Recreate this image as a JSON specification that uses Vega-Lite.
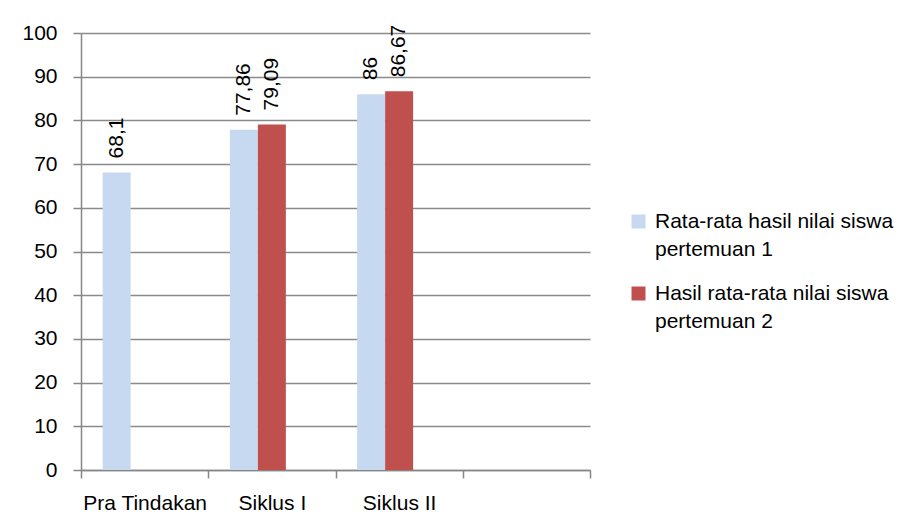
{
  "$schema": "https://vega.github.io/schema/vega-lite/v6.json",
  "width": 509,
  "height": 437,
  "autosize": {"type": "none"},
  "padding": {"left": 81, "top": 33, "right": 317, "bottom": 58},
  "background": "white",
  "config": {
    "locale": {"number": {"decimal": ",", "thousands": ".", "grouping": [3], "currency": ["", ""]}},
    "view": {"stroke": null},
    "font": "Liberation Sans",
    "axis": {
      "labelFont": "Liberation Sans",
      "labelFontSize": 21,
      "labelColor": "#000000",
      "domainColor": "#868686",
      "tickColor": "#868686",
      "gridColor": "#8a8a8a",
      "gridWidth": 1.5,
      "tickWidth": 1.5,
      "tickSize": 8,
      "title": null
    },
    "legend": {
      "labelFont": "Liberation Sans",
      "labelFontSize": 21,
      "labelColor": "#000000"
    }
  },
  "data": {
    "values": [
      {"kategori": "Pra Tindakan", "seri": "Rata-rata hasil nilai siswa pertemuan 1", "nilai": 68.1},
      {"kategori": "Siklus I", "seri": "Rata-rata hasil nilai siswa pertemuan 1", "nilai": 77.86},
      {"kategori": "Siklus I", "seri": "Hasil rata-rata nilai siswa pertemuan 2", "nilai": 79.09},
      {"kategori": "Siklus II", "seri": "Rata-rata hasil nilai siswa pertemuan 1", "nilai": 86},
      {"kategori": "Siklus II", "seri": "Hasil rata-rata nilai siswa pertemuan 2", "nilai": 86.67}
    ]
  },
  "encoding": {
    "x": {
      "field": "kategori",
      "type": "nominal",
      "sort": null,
      "scale": {"domain": ["Pra Tindakan", "Siklus I", "Siklus II", " "], "paddingInner": 0, "paddingOuter": 0},
      "axis": {"labelAngle": 0, "tickBand": "extent", "labelPadding": 14, "grid": false, "domainWidth": 1.5}
    },
    "xOffset": {
      "field": "seri",
      "type": "nominal",
      "scale": {"domain": ["Rata-rata hasil nilai siswa pertemuan 1", "Hasil rata-rata nilai siswa pertemuan 2", "-"], "paddingInner": 0, "paddingOuter": 0.773}
    },
    "y": {
      "field": "nilai",
      "type": "quantitative",
      "scale": {"domain": [0, 100], "nice": false},
      "axis": {"values": [0, 10, 20, 30, 40, 50, 60, 70, 80, 90, 100], "grid": true, "labelPadding": 16, "domainWidth": 1.5}
    }
  },
  "layer": [
    {
      "mark": {"type": "bar"},
      "encoding": {
        "color": {
          "field": "seri",
          "type": "nominal",
          "scale": {"domain": ["Rata-rata hasil nilai siswa pertemuan 1", "Hasil rata-rata nilai siswa pertemuan 2"], "range": ["#C6D9F1", "#C0504D"]},
          "legend": {
            "orient": "none",
            "legendX": 547,
            "legendY": 178,
            "title": null,
            "symbolType": "square",
            "symbolSize": 196,
            "symbolStrokeWidth": 0,
            "labelLimit": 400,
            "labelOffset": 6,
            "rowPadding": 22,
            "labelBaseline": "top",
            "labelExpr": "datum.label == 'Rata-rata hasil nilai siswa pertemuan 1' ? ['Rata-rata hasil nilai siswa', 'pertemuan 1'] : ['Hasil rata-rata nilai siswa', 'pertemuan 2']",
            "encode": {
              "labels": {"update": {"lineHeight": {"value": 28}, "dy": {"value": -11}}}
            }
          }
        }
      }
    },
    {
      "mark": {"type": "text", "angle": 270, "align": "left", "baseline": "middle", "dx": 14, "fontSize": 21, "font": "Liberation Sans", "color": "#000000"},
      "encoding": {
        "text": {"field": "nilai", "type": "quantitative", "format": ".2~f"}
      }
    }
  ]
}
